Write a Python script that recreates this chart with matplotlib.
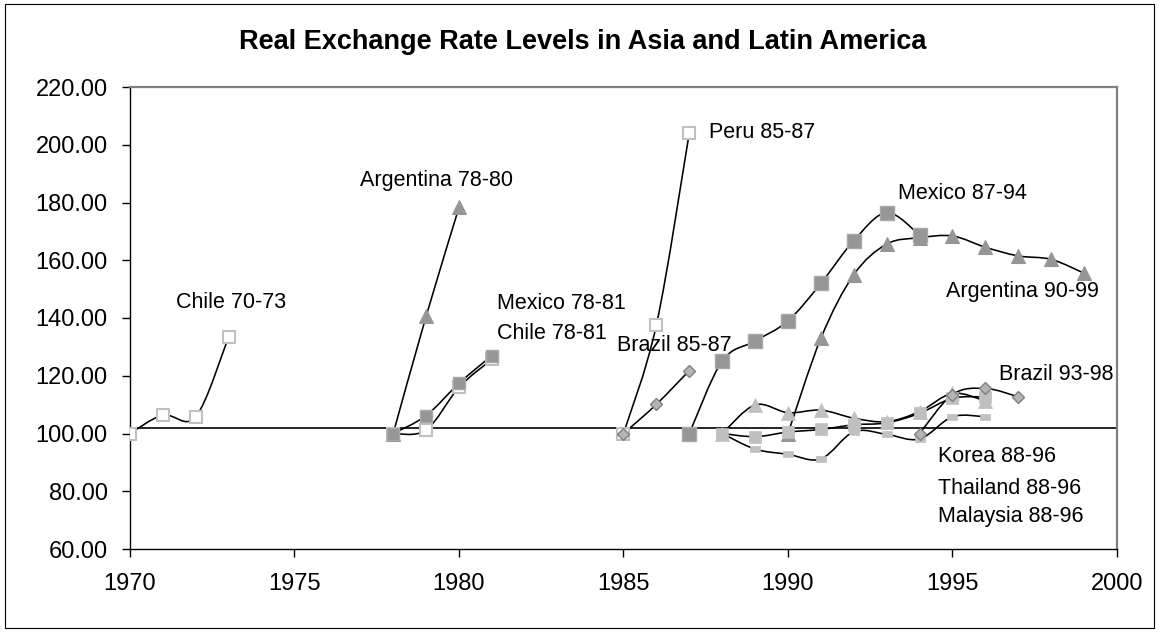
import numpy as np
import matplotlib
matplotlib.use("Agg")
import matplotlib.pyplot as plt
from matplotlib.path import Path
from matplotlib.patches import PathPatch, Rectangle

plt.rcParams['font.family'] = ['Liberation Sans', 'DejaVu Sans']

# episodes: years and real exchange rate index (start year = 100)
chile70_yr = [1970, 1971, 1972, 1973]
chile70 = [100.0, 106.4, 105.8, 133.5]

arg78_yr = [1978, 1979, 1980]
arg78 = [100.0, 140.6, 178.3]

mex78_yr = [1978, 1979, 1980, 1981]
mex78 = [100.0, 106.2, 117.4, 127.0]

chile78_yr = [1978, 1979, 1980, 1981]
chile78 = [100.0, 101.2, 116.0, 125.7]

peru85_yr = [1985, 1986, 1987]
peru85 = [100.0, 137.6, 204.1]

brazil85_yr = [1985, 1986, 1987]
brazil85 = [100.0, 110.1, 121.8]

mex87_yr = [1987, 1988, 1989, 1990, 1991, 1992, 1993, 1994]
mex87 = [100.0, 125.1, 132.0, 139.0, 152.0, 166.8, 176.5, 168.7]

arg90_yr = [1990, 1991, 1992, 1993, 1994, 1995, 1996, 1997, 1998, 1999]
arg90 = [100.0, 133.0, 155.0, 165.6, 167.8, 168.4, 164.5, 161.5, 160.3, 155.5]

asia_yr = [1988, 1989, 1990, 1991, 1992, 1993, 1994, 1995, 1996]
korea = [100.0, 98.9, 100.5, 101.4, 103.0, 103.7, 107.0, 112.2, 112.7]
thailand = [100.0, 109.9, 107.2, 108.1, 105.3, 104.1, 107.6, 113.9, 111.3]
malaysia = [100.0, 94.6, 92.8, 91.2, 100.6, 99.7, 98.1, 105.8, 105.8]

brazil93_yr = [1994, 1995, 1996, 1997]
brazil93 = [100.0, 113.5, 115.6, 112.7]

base_level = 101.9

labels = [
    ("Chile 70-73", 1971.4, 145.2),
    ("Argentina 78-80", 1977.0, 187.5),
    ("Mexico 78-81", 1981.15, 145.1),
    ("Chile 78-81", 1981.15, 134.7),
    ("Peru 85-87", 1987.6, 204.4),
    ("Brazil 85-87", 1984.8, 130.6),
    ("Mexico 87-94", 1993.35, 183.2),
    ("Argentina 90-99", 1994.8, 149.1),
    ("Brazil 93-98", 1996.4, 120.3),
    ("Korea 88-96", 1994.55, 91.9),
    ("Thailand 88-96", 1994.55, 81.1),
    ("Malaysia 88-96", 1994.55, 71.1),
]

DARK = '#969696'
LIGHT = '#c0c0c0'


def smooth_line(ax, xs, ys):
    # Excel style smoothed line: Catmull-Rom segments as cubic Bezier
    p = np.column_stack([xs, ys]).astype(float)
    n = len(p)
    verts = [p[0]]
    codes = [Path.MOVETO]
    for i in range(n - 1):
        p0 = p[i - 1] if i > 0 else p[i]
        p3 = p[i + 2] if i + 2 < n else p[i + 1]
        c1 = p[i] + (p[i + 1] - p0) / 6.0
        c2 = p[i + 1] - (p3 - p[i]) / 6.0
        verts += [c1, c2, p[i + 1]]
        codes += [Path.CURVE4] * 3
    ax.add_patch(PathPatch(Path(verts, codes), fill=False, edgecolor='black',
                           linewidth=1.15, zorder=3))


fig = plt.figure(figsize=(11.59, 6.32), dpi=100)
ax = fig.add_axes([130 / 1159, 1 - 549 / 632, 987 / 1159, 462 / 632])

ax.axhline(base_level, color='black', linewidth=1.2, zorder=2)

series = [
    (chile70_yr, chile70, dict(marker='s', ms=8.5, mfc='white', mec=LIGHT, mew=1.5)),
    (arg78_yr, arg78, dict(marker='^', ms=10, mfc=DARK, mec=DARK, mew=0.8)),
    (chile78_yr, chile78, dict(marker='s', ms=8.5, mfc='white', mec=LIGHT, mew=1.5)),
    (mex78_yr, mex78, dict(marker='s', ms=9, mfc=DARK, mec='#a8a8a8', mew=1.0)),
    (peru85_yr, peru85, dict(marker='s', ms=8.5, mfc='white', mec=LIGHT, mew=1.5)),
    (brazil85_yr, brazil85, dict(marker='D', ms=6.5, mfc='#b4b4b4', mec='#808080', mew=1.0)),
    (mex87_yr, mex87, dict(marker='s', ms=9.5, mfc=DARK, mec='#a8a8a8', mew=1.0)),
    (arg90_yr, arg90, dict(marker='^', ms=10, mfc=DARK, mec=DARK, mew=0.8)),
    (asia_yr, malaysia, dict(marker=[(-1, -0.5), (1, -0.5), (1, 0.5), (-1, 0.5), (-1, -0.5)],
                             ms=7.5, mfc=LIGHT, mec=LIGHT, mew=0.5)),
    (asia_yr, korea, dict(marker='s', ms=8, mfc=LIGHT, mec=LIGHT, mew=0.5)),
    (asia_yr, thailand, dict(marker='^', ms=10, mfc=LIGHT, mec=LIGHT, mew=0.5)),
    (brazil93_yr, brazil93, dict(marker='D', ms=6.5, mfc='#b4b4b4', mec='#808080', mew=1.0)),
]
for xs, ys, st in series:
    smooth_line(ax, xs, ys)
    ax.plot(xs, ys, linestyle='none', zorder=4, **st)

for txt, x, y in labels:
    ax.text(x, y, txt, fontsize=15.5, ha='left', va='center', zorder=5)

ax.set_xlim(1970, 2000)
ax.set_ylim(60, 220)
ax.set_xticks(np.arange(1970, 2001, 5))
ax.set_yticks(np.arange(60, 221, 20))
ax.yaxis.set_major_formatter(matplotlib.ticker.FormatStrFormatter('%.2f'))
ax.tick_params(axis='y', direction='out', length=6, width=1, pad=10, labelsize=17)
ax.tick_params(axis='x', direction='out', length=5.5, width=1, pad=12, labelsize=17)

for side in ['left', 'bottom']:
    ax.spines[side].set_color('black')
    ax.spines[side].set_linewidth(1.0)
for side in ['top', 'right']:
    ax.spines[side].set_color('#808080')
    ax.spines[side].set_linewidth(1.6)

fig.text(0.503, 1 - 42 / 632, 'Real Exchange Rate Levels in Asia and Latin America',
         ha='center', va='center', fontsize=19.5, fontweight='bold')

fig.patches.append(Rectangle((5 / 1159, 1 - 628 / 632), 1149 / 1159, 624 / 632,
                             transform=fig.transFigure, fill=False,
                             edgecolor='black', linewidth=0.8))

fig.savefig('out.png', dpi=100)
